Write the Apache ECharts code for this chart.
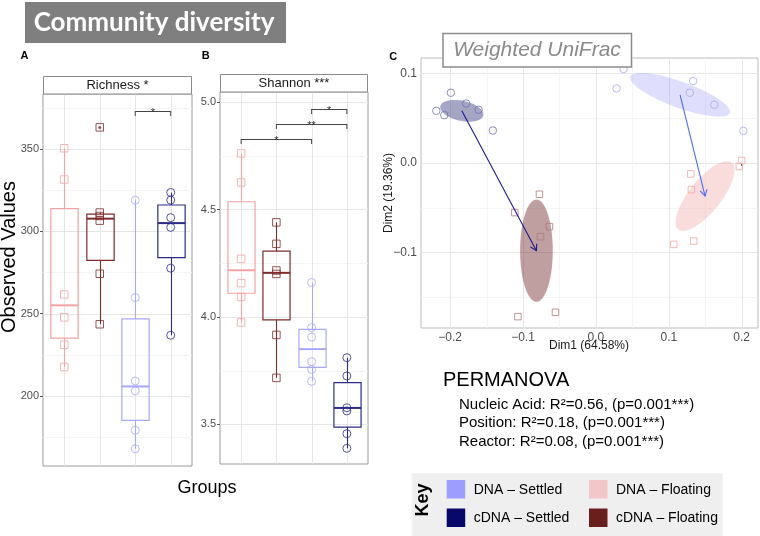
<!DOCTYPE html>
<html><head><meta charset="utf-8">
<script src="https://cdn.jsdelivr.net/npm/echarts@6/dist/echarts.min.js"></script>
<style>html,body{margin:0;padding:0;background:#fff}#c{width:760px;height:536px}</style>
</head><body><div id="c"></div>
<script>
// ---------------- DATA ----------------
const groups = ['DNA – Floating', 'cDNA – Floating', 'DNA – Settled', 'cDNA – Settled'];
const groupSymbols = ['rect', 'rect', 'circle', 'circle'];

// Panel A: Richness
const richPoints = [
  [350.5, 331.5, 261.6, 247.7, 231.0, 217.5],
  [363.2, 311.4, 309.3, 306.5, 274.2, 243.5],
  [318.9, 259.7, 209.0, 203.0, 179.0, 167.8],
  [323.6, 319.0, 308.3, 302.4, 277.6, 236.8]
];
// [low whisker, Q1, median, Q3, high whisker]
const richBox = [
  [217.5, 235.0, 255.0, 313.8, 350.5],
  [243.5, 282.3, 307.7, 310.5, 311.4],
  [167.8, 185.0, 205.7, 246.8, 318.9],
  [236.8, 284.0, 305.0, 316.0, 323.6]
];
const richOutliers = [[2, 363.2]];
const richSig = [[3, 4, 373, '*']];
const richTicks = [200, 250, 300, 350];
const richMinor = [175, 225, 275, 325, 375];

// Panel B: Shannon
const shanPoints = [
  [4.761, 4.626, 4.270, 4.157, 4.093, 3.974],
  [4.440, 4.340, 4.216, 4.200, 3.916, 3.716],
  [4.160, 3.950, 3.906, 3.792, 3.755, 3.700],
  [3.810, 3.725, 3.577, 3.562, 3.456, 3.388]
];
const shanBox = [
  [3.974, 4.110, 4.217, 4.536, 4.761],
  [3.716, 3.986, 4.205, 4.306, 4.440],
  [3.700, 3.765, 3.850, 3.942, 4.160],
  [3.388, 3.487, 3.576, 3.694, 3.810]
];
const shanSig = [[1, 3, 4.830, '*'], [2, 4, 4.899, '**'], [3, 4, 4.967, '*']];
const shanTicks = [3.5, 4.0, 4.5, 5.0];
const shanMinor = [3.75, 4.25, 4.75];

// Panel C: Weighted UniFrac PCoA
const pcoaDNAFloating  = [[0.200, 0.0027], [0.1968, -0.004], [0.1301, -0.0123], [0.131, -0.0298], [0.1068, -0.091], [0.1342, -0.0873]];
const pcoaCDNAFloating = [[-0.0775, -0.035], [-0.1113, -0.0555], [-0.0638, -0.0712], [-0.0761, -0.0824], [-0.107, -0.1717], [-0.0555, -0.1669]];
const pcoaDNASettled   = [[0.0283, 0.0832], [0.0379, 0.1049], [0.1334, 0.0915], [0.1288, 0.0784], [0.1625, 0.065], [0.2023, 0.0358]];
const pcoaCDNASettled  = [[-0.199, 0.0784], [-0.219, 0.0582], [-0.208, 0.0534], [-0.178, 0.0664], [-0.161, 0.0594], [-0.1414, 0.0362]];
// ellipse: [cx, cy, major dx, major dy, minor dx, minor dy] in data units
const ellDNAFloating  = [0.1498, -0.037, 0.0366, 0.0373, 0.0171, -0.0112];
const ellCDNAFloating = [-0.0816, -0.098, 0.0, 0.0571, 0.0224, 0.0];
const ellDNASettled   = [0.1155, 0.0761, 0.0683, -0.0203, -0.0061, -0.0137];
const ellCDNASettled  = [-0.184, 0.0582, 0.0295, -0.0052, -0.0029, -0.011];
const pcoaXTicks = [-0.2, -0.1, 0.0, 0.1, 0.2];
const pcoaXMinor = [-0.15, -0.05, 0.05, 0.15];
const pcoaYTicks = [-0.1, 0.0, 0.1];
const pcoaYMinor = [-0.15, -0.05, 0.05];

const permanova = [
  'Nucleic Acid: R²=0.56, (p=0.001***)',
  'Position: R²=0.18, (p=0.001***)',
  'Reactor: R²=0.08, (p=0.001***)'
];

// ---------------- STYLE ----------------
const FONT = '"Liberation Sans", Arial, Helvetica, sans-serif';
const boxColors = ['#f2a4a4', '#7d2b2b', '#a9a9f8', '#2c2c88'];
const keyColors = ['#f3c6c9', '#6a1f1f', '#9d9dff', '#08086a'];
const MAJOR = '#e6e6e6', MINOR = '#f3f3f3';

const chart = echarts.init(document.getElementById('c'));

function gridLines(gi, dir, vals, other, color, width) {
  return {
    type: 'custom', xAxisIndex: gi, yAxisIndex: gi, silent: true, z: 1, clip: false,
    data: vals.map(v => dir === 'h' ? [other, v] : [v, other]),
    renderItem: (params, api) => {
      const cs = params.coordSys;
      const p = api.coord([api.value(0), api.value(1)]);
      if (dir === 'h') {
        const y = Math.round(p[1]) + 0.5;
        return {type: 'line', shape: {x1: cs.x, y1: y, x2: cs.x + cs.width, y2: y}, style: {stroke: color, lineWidth: width}};
      }
      const x = Math.round(p[0]) + 0.5;
      return {type: 'line', shape: {x1: x, y1: cs.y, x2: x, y2: cs.y + cs.height}, style: {stroke: color, lineWidth: width}};
    }
  };
}

function boxSeries(gi, boxes) {
  const BW = 0.77;
  return {
    type: 'custom', xAxisIndex: gi, yAxisIndex: gi, silent: true, z: 3, clip: false,
    data: boxes.map((b, i) => [i + 1].concat(b)),
    renderItem: (params, api) => {
      const i = params.dataIndex, c = boxColors[i];
      const x = api.value(0);
      const lo = api.coord([x, api.value(1)]), q1 = api.coord([x, api.value(2)]);
      const md = api.coord([x, api.value(3)]), q3 = api.coord([x, api.value(4)]);
      const hi = api.coord([x, api.value(5)]);
      const half = api.size([BW, 0])[0] / 2;
      const cx = Math.round(lo[0]) + 0.5;
      return {type: 'group', children: [
        {type: 'line', shape: {x1: cx, y1: lo[1], x2: cx, y2: q1[1]}, style: {stroke: c, lineWidth: 1.1}},
        {type: 'line', shape: {x1: cx, y1: q3[1], x2: cx, y2: hi[1]}, style: {stroke: c, lineWidth: 1.1}},
        {type: 'rect', shape: {x: cx - half, y: q3[1], width: 2 * half, height: q1[1] - q3[1]}, style: {fill: null, stroke: c, lineWidth: 1.2}},
        {type: 'line', shape: {x1: cx - half, y1: md[1], x2: cx + half, y2: md[1]}, style: {stroke: c, lineWidth: 2}}
      ]};
    }
  };
}

function pointSeries(gi, pts) {
  return pts.map((arr, i) => ({
    type: 'scatter', xAxisIndex: gi, yAxisIndex: gi, silent: true, z: 4,
    symbol: groupSymbols[i], symbolSize: groupSymbols[i] === 'rect' ? 7.5 : 8,
    itemStyle: {color: 'rgba(255,255,255,0)', borderColor: boxColors[i], borderWidth: 1},
    data: arr.map(v => [i + 1, v])
  }));
}

function sigSeries(gi, sigs) {
  return {
    type: 'custom', xAxisIndex: gi, yAxisIndex: gi, silent: true, z: 5, clip: false,
    data: sigs.map(s => [s[0], s[1], s[2]]),
    renderItem: (params, api) => {
      const s = sigs[params.dataIndex];
      const p1 = api.coord([api.value(0), api.value(2)]);
      const p2 = api.coord([api.value(1), api.value(2)]);
      const y = Math.round(p1[1]) + 0.5;
      const st = {stroke: '#444', lineWidth: 1};
      return {type: 'group', children: [
        {type: 'line', shape: {x1: p1[0], y1: y, x2: p2[0], y2: y}, style: st},
        {type: 'line', shape: {x1: p1[0], y1: y - 0.5, x2: p1[0], y2: y + 4.5}, style: st},
        {type: 'line', shape: {x1: p2[0], y1: y - 0.5, x2: p2[0], y2: y + 4.5}, style: st},
        {type: 'text', style: {text: s[3], x: (p1[0] + p2[0]) / 2, y: y + 1, textAlign: 'center', textVerticalAlign: 'middle', fill: '#333', font: '11px ' + FONT}}
      ]};
    }
  };
}

function ellipseSeries(ells, fills) {
  return {
    type: 'custom', xAxisIndex: 2, yAxisIndex: 2, silent: true, z: 2, clip: false,
    data: ells,
    renderItem: (params, api) => {
      const e = [0, 1, 2, 3, 4, 5].map(k => api.value(k));
      const pts = [];
      for (let k = 0; k < 90; k++) {
        const t = k / 90 * Math.PI * 2;
        pts.push(api.coord([e[0] + Math.cos(t) * e[2] + Math.sin(t) * e[4], e[1] + Math.cos(t) * e[3] + Math.sin(t) * e[5]]));
      }
      return {type: 'polygon', shape: {points: pts}, style: {fill: fills[params.dataIndex], stroke: null}};
    }
  };
}

function arrowSeries(arrows, colors) {
  return {
    type: 'custom', xAxisIndex: 2, yAxisIndex: 2, silent: true, z: 6, clip: false,
    data: arrows,
    renderItem: (params, api) => {
      const c = colors[params.dataIndex];
      const p0 = api.coord([api.value(0), api.value(1)]);
      const p1 = api.coord([api.value(2), api.value(3)]);
      const ang = Math.atan2(p1[1] - p0[1], p1[0] - p0[0]);
      const L = 7, a = Math.PI / 6;
      const h1 = [p1[0] - L * Math.cos(ang - a), p1[1] - L * Math.sin(ang - a)];
      const h2 = [p1[0] - L * Math.cos(ang + a), p1[1] - L * Math.sin(ang + a)];
      return {type: 'group', children: [
        {type: 'line', shape: {x1: p0[0], y1: p0[1], x2: p1[0], y2: p1[1]}, style: {stroke: c, lineWidth: 1.1}},
        {type: 'polyline', shape: {points: [h1, p1, h2]}, style: {stroke: c, lineWidth: 1.1, fill: null}}
      ]};
    }
  };
}

const tickLabel = (size) => ({show: true, color: '#4d4d4d', fontSize: size, fontFamily: FONT, margin: 4});
const pcoaFmt = v => (v < -1e-9 ? '−' : '') + Math.abs(v).toFixed(1);

const pcoaSets = [pcoaDNAFloating, pcoaCDNAFloating, pcoaDNASettled, pcoaCDNASettled];
const pcoaColors = ['#f0a6a6', '#b07a7a', '#a9a9ee', '#7070b2'];

const option = {
  animation: false,
  backgroundColor: '#fff',
  textStyle: {fontFamily: FONT},
  grid: [
    {left: 43, top: 94, width: 149, height: 372, show: true, borderColor: '#9a9a9a', borderWidth: 1, backgroundColor: 'transparent'},
    {left: 220, top: 92, width: 148, height: 372, show: true, borderColor: '#9a9a9a', borderWidth: 1, backgroundColor: 'transparent'},
    {left: 421, top: 58, width: 337, height: 270, show: true, borderColor: '#bdbdbd', borderWidth: 1, backgroundColor: 'transparent'}
  ],
  xAxis: [
    {type: 'value', gridIndex: 0, min: 0.4, max: 4.6, axisLabel: {show: false}, axisTick: {show: false}, axisLine: {show: false}, splitLine: {show: false}},
    {type: 'value', gridIndex: 1, min: 0.4, max: 4.6, axisLabel: {show: false}, axisTick: {show: false}, axisLine: {show: false}, splitLine: {show: false}},
    {type: 'value', gridIndex: 2, min: -0.240, max: 0.2224,
      axisLabel: Object.assign(tickLabel(12), {customValues: pcoaXTicks, formatter: pcoaFmt}),
      axisTick: {show: true, customValues: pcoaXTicks, length: 3, lineStyle: {color: '#555'}},
      axisLine: {show: false}, splitLine: {show: false}}
  ],
  yAxis: [
    {type: 'value', gridIndex: 0, min: 157.3, max: 383.5,
      axisLabel: Object.assign(tickLabel(11), {customValues: richTicks}),
      axisTick: {show: true, customValues: richTicks, length: 3, lineStyle: {color: '#555'}},
      axisLine: {show: false}, splitLine: {show: false}},
    {type: 'value', gridIndex: 1, min: 3.315, max: 5.047,
      axisLabel: Object.assign(tickLabel(11), {customValues: shanTicks, formatter: v => v.toFixed(1)}),
      axisTick: {show: true, customValues: shanTicks, length: 3, lineStyle: {color: '#555'}},
      axisLine: {show: false}, splitLine: {show: false}},
    {type: 'value', gridIndex: 2, min: -0.1844, max: 0.1172,
      axisLabel: Object.assign(tickLabel(12), {customValues: pcoaYTicks, formatter: pcoaFmt}),
      axisTick: {show: true, customValues: pcoaYTicks, length: 3, lineStyle: {color: '#555'}},
      axisLine: {show: false}, splitLine: {show: false}}
  ],
  series: [
    gridLines(0, 'h', richMinor, 2.5, MINOR, 0.8),
    gridLines(0, 'h', richTicks, 2.5, MAJOR, 1),
    gridLines(0, 'v', [1, 2, 3, 4], 250, MAJOR, 1),
    gridLines(1, 'h', shanMinor, 2.5, MINOR, 0.8),
    gridLines(1, 'h', shanTicks, 2.5, MAJOR, 1),
    gridLines(1, 'v', [1, 2, 3, 4], 4.0, MAJOR, 1),
    gridLines(2, 'h', pcoaYMinor, 0, MINOR, 0.8),
    gridLines(2, 'h', pcoaYTicks, 0, MAJOR, 1),
    gridLines(2, 'v', pcoaXMinor, 0, MINOR, 0.8),
    gridLines(2, 'v', pcoaXTicks, 0, MAJOR, 1),
    boxSeries(0, richBox),
    boxSeries(1, shanBox),
    ...pointSeries(0, richPoints),
    ...pointSeries(1, shanPoints),
    {type: 'scatter', xAxisIndex: 0, yAxisIndex: 0, silent: true, z: 5, symbol: 'circle', symbolSize: 3,
      itemStyle: {color: boxColors[1]}, data: richOutliers},
    sigSeries(0, richSig),
    sigSeries(1, shanSig),
    ellipseSeries([ellDNAFloating, ellCDNAFloating, ellDNASettled, ellCDNASettled],
      ['rgba(240,165,165,0.38)', 'rgba(112,42,42,0.45)', 'rgba(150,150,250,0.3)', 'rgba(55,55,125,0.45)']),
    ...pcoaSets.map((arr, i) => ({
      type: 'scatter', xAxisIndex: 2, yAxisIndex: 2, silent: true, z: 4,
      symbol: groupSymbols[i], symbolSize: groupSymbols[i] === 'rect' ? 6.5 : 7.5,
      itemStyle: {color: 'rgba(255,255,255,0)', borderColor: pcoaColors[i], borderWidth: 1},
      data: arr
    })),
    arrowSeries([
      [ellCDNASettled[0], ellCDNASettled[1], ellCDNAFloating[0], ellCDNAFloating[1]],
      [ellDNASettled[0], ellDNASettled[1], ellDNAFloating[0], ellDNAFloating[1]]
    ], ['#1c1c8c', '#4f6cf0'])
  ],
  graphic: [
    // title
    {type: 'rect', z: 100, shape: {x: 25, y: 2, width: 261, height: 41}, style: {fill: '#7f7f7f'}},
    {type: 'text', z: 101, style: {text: 'Community diversity', x: 154, y: 23, textAlign: 'center', textVerticalAlign: 'middle', fill: '#fff', font: 'bold 26px Lato, ' + FONT}},
    // panel letters
    {type: 'text', z: 100, style: {text: 'A', x: 24.5, y: 56, textAlign: 'center', textVerticalAlign: 'middle', fill: '#000', font: 'bold 11px ' + FONT}},
    {type: 'text', z: 100, style: {text: 'B', x: 205.7, y: 56, textAlign: 'center', textVerticalAlign: 'middle', fill: '#000', font: 'bold 11px ' + FONT}},
    {type: 'text', z: 100, style: {text: 'C', x: 393.3, y: 56.7, textAlign: 'center', textVerticalAlign: 'middle', fill: '#000', font: 'bold 11px ' + FONT}},
    // strips
    {type: 'rect', z: 100, shape: {x: 43.5, y: 76.5, width: 148, height: 17.5}, style: {fill: '#fff', stroke: '#8a8a8a', lineWidth: 1}},
    {type: 'text', z: 101, style: {text: 'Richness *', x: 117.5, y: 85.5, textAlign: 'center', textVerticalAlign: 'middle', fill: '#1a1a1a', font: '13px ' + FONT}},
    {type: 'rect', z: 100, shape: {x: 220.5, y: 74.5, width: 147, height: 17.5}, style: {fill: '#fff', stroke: '#8a8a8a', lineWidth: 1}},
    {type: 'text', z: 101, style: {text: 'Shannon ***', x: 294, y: 83.5, textAlign: 'center', textVerticalAlign: 'middle', fill: '#1a1a1a', font: '13px ' + FONT}},
    // axis titles
    {type: 'text', z: 100, x: 9, y: 257, rotation: Math.PI / 2, style: {text: 'Observed Values', x: 0, y: 0, textAlign: 'center', textVerticalAlign: 'middle', fill: '#000', font: '20px ' + FONT}},
    {type: 'text', z: 100, style: {text: 'Groups', x: 207, y: 488, textAlign: 'center', textVerticalAlign: 'middle', fill: '#000', font: '18px ' + FONT}},
    {type: 'text', z: 100, style: {text: 'Dim1 (64.58%)', x: 589, y: 346, textAlign: 'center', textVerticalAlign: 'middle', fill: '#1a1a1a', font: '12px ' + FONT}},
    {type: 'text', z: 100, x: 389, y: 193, rotation: Math.PI / 2, style: {text: 'Dim2 (19.36%)', x: 0, y: 0, textAlign: 'center', textVerticalAlign: 'middle', fill: '#1a1a1a', font: '12px ' + FONT}},
    // Weighted UniFrac label
    {type: 'rect', z: 100, shape: {x: 443, y: 33.5, width: 188.5, height: 33.5}, style: {fill: '#fff', stroke: '#8c8c8c', lineWidth: 1.5}},
    {type: 'text', z: 101, style: {text: 'Weighted UniFrac', x: 537, y: 50.5, textAlign: 'center', textVerticalAlign: 'middle', fill: '#8a8a8a', font: 'italic 21px ' + FONT}},
    // PERMANOVA
    {type: 'text', z: 100, style: {text: 'PERMANOVA', x: 443, y: 390, textAlign: 'left', textVerticalAlign: 'bottom', fill: '#000', font: '20px ' + FONT}},
    ...permanova.map((t, k) => ({type: 'text', z: 100, style: {text: t, x: 459, y: 412 + k * 18.5, textAlign: 'left', textVerticalAlign: 'bottom', fill: '#000', font: '15px ' + FONT}})),
    // Key
    {type: 'rect', z: 100, shape: {x: 411.7, y: 473.3, width: 311, height: 63}, style: {fill: '#efefef'}},
    {type: 'text', z: 101, x: 423, y: 500, rotation: Math.PI / 2, style: {text: 'Key', x: 0, y: 0, textAlign: 'center', textVerticalAlign: 'middle', fill: '#000', font: 'bold 18px ' + FONT}},
    ...[[2, 446.7, 480], [3, 446.7, 508.5], [0, 589, 480], [1, 589, 508.5]].flatMap(([g, x, y]) => [
      {type: 'rect', z: 101, shape: {x: x, y: y, width: 18.5, height: 18.5}, style: {fill: keyColors[g]}},
      {type: 'text', z: 101, style: {text: groups[g], x: x + 27, y: y + 10, textAlign: 'left', textVerticalAlign: 'middle', fill: '#000', font: '14px ' + FONT}}
    ])
  ]
};
chart.setOption(option);
</script>
</body></html>
